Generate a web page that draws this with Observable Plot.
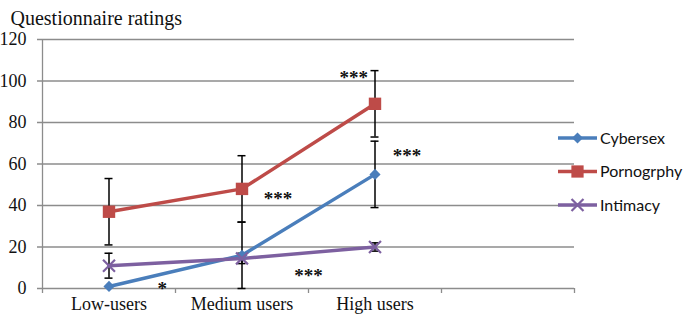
<!DOCTYPE html>
<html><head><meta charset="utf-8">
<script src="https://cdn.jsdelivr.net/npm/d3@7"></script>
<script src="https://cdn.jsdelivr.net/npm/@observablehq/plot@0.6"></script>
<style>body{margin:0;background:#fff}</style>
</head><body><div id="chart"></div>
<script>
const title = "Questionnaire ratings";
const categories = ["Low-users", "Medium users", "High users"];
const series = ["Cybersex", "Pornogrphy", "Intimacy"];
const cybersex = [1, 16, 55];
const cybersexErr = [0, 16, 16];
const pornography = [37, 48, 89];
const pornographyErr = [16, 16, 16];
const intimacy = [11, 14.5, 20];
const intimacyErr = [6, 2.5, 2];
const yTicks = [0, 20, 40, 60, 80, 100, 120];
const sigLabels = ["*", "***", "***", "***", "***"];
const sigX = [0.9, 1.77, 2.34, 2.74, 2.0];
const sigY = [0, 43.4, 101.4, 64, 6];

const colors = ["#4A7EBB", "#BE4B48", "#7D60A0"];
const symbols = ["diamond2", "square", "times"];
const gray = "#8c8c8c";
const serif = "'Liberation Serif', 'Times New Roman', serif";

const values = [cybersex, pornography, intimacy];
const errors = [cybersexErr, pornographyErr, intimacyErr];
const rows = [];
series.forEach((s, si) => categories.forEach((c, ci) => rows.push({
  series: s, si, cat: c, pos: ci + 0.5, value: values[si][ci], err: errors[si][ci]
})));
const errRows = rows.filter(d => d.err > 0);
const sigs = sigLabels.map((t, i) => ({t, x: sigX[i], y: sigY[i]}));
const bounds = d3.range(0, categories.length + 2);
const txt = {fontFamily: serif, fontSize: 18, fill: "#111"};

const plot = Plot.plot({
  width: 686, height: 321,
  marginLeft: 42, marginRight: 112, marginTop: 39, marginBottom: 33,
  style: {fontFamily: serif, fontSize: "18px", background: "#fff", overflow: "visible"},
  x: {domain: [0, categories.length + 1], axis: null},
  y: {domain: [0, 120], axis: null},
  marks: [
    Plot.ruleY(yTicks, {stroke: gray, strokeWidth: 1.3, insetLeft: -5}),
    Plot.ruleX([0], {stroke: gray, strokeWidth: 1.3}),
    Plot.axisX({ticks: bounds, tickSize: 5, tickFormat: () => "", stroke: gray, strokeWidth: 1.3}),
    Plot.text(yTicks, {y: d => d, frameAnchor: "left", textAnchor: "end", dx: -16, ...txt}),
    Plot.text(categories, {x: (d, i) => i + 0.5, frameAnchor: "bottom", dy: 21, ...txt}),
    Plot.text([title], {frameAnchor: "top-left", textAnchor: "start", dx: -32, dy: -29, ...txt, fontSize: 20}),
    Plot.ruleX(errRows, {x: "pos", y1: d => d.value - d.err, y2: d => d.value + d.err, stroke: "#000", strokeWidth: 1.5}),
    Plot.ruleY(errRows, {y: d => d.value + d.err, x1: "pos", x2: "pos", insetLeft: -4, insetRight: -4, stroke: "#000", strokeWidth: 1.5}),
    Plot.ruleY(errRows, {y: d => d.value - d.err, x1: "pos", x2: "pos", insetLeft: -4, insetRight: -4, stroke: "#000", strokeWidth: 1.5}),
    ...series.map((s, si) => Plot.line(rows.filter(d => d.si === si), {x: "pos", y: "value", stroke: colors[si], strokeWidth: 3.5})),
    Plot.dot(rows.filter(d => d.si === 0), {x: "pos", y: "value", symbol: symbols[0], r: 5, fill: colors[0]}),
    Plot.dot(rows.filter(d => d.si === 1), {x: "pos", y: "value", symbol: symbols[1], r: 7, fill: colors[1]}),
    Plot.dot(rows.filter(d => d.si === 2), {x: "pos", y: "value", symbol: symbols[2], r: 5.5, stroke: colors[2], strokeWidth: 2.2}),
    Plot.text(sigs, {x: "x", y: "y", text: "t", ...txt, fontSize: 19, letterSpacing: "1.5px", fontWeight: "bold"})
  ]
});

// Legend (drawn into the same SVG, right of the plot frame)
const svg = d3.select(plot);
const lg = svg.append("g")
  .attr("font-family", "Lato, 'Open Sans', sans-serif")
  .attr("font-size", 16)
  .attr("text-anchor", "start");
series.forEach((s, i) => {
  const y = 138 + i * 33.5;
  const g = lg.append("g").attr("transform", `translate(0,${y})`);
  g.append("line").attr("x1", 558).attr("x2", 597).attr("y1", 0).attr("y2", 0)
    .attr("stroke", colors[i]).attr("stroke-width", 3.5);
  const sym = [d3.symbolDiamond2, d3.symbolSquare, d3.symbolTimes][i];
  const size = [78, 150, 95][i];
  const p = g.append("path").attr("transform", "translate(577.5,0)").attr("d", d3.symbol(sym, size)());
  if (i === 2) p.attr("fill", "none").attr("stroke", colors[i]).attr("stroke-width", 2.2);
  else p.attr("fill", colors[i]);
  g.append("text").attr("x", 600).attr("y", 0).attr("dy", "0.35em")
    .attr("text-anchor", "start").attr("fill", "#111").text(s);
});

document.getElementById("chart").appendChild(plot);
</script>
</body></html>
